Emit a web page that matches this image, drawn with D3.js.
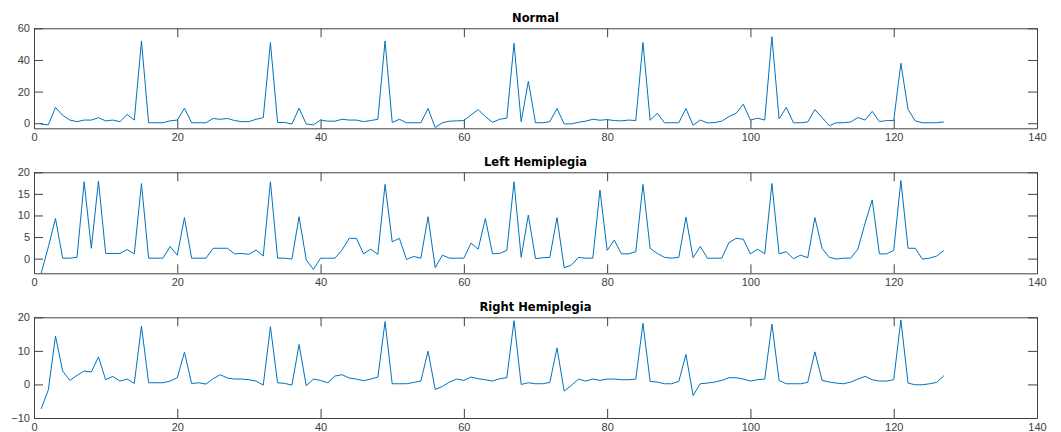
<!DOCTYPE html>
<html>
<head>
<meta charset="utf-8">
<style>
  body { margin: 0; background: #fff; }
  svg { display: block; font-family: "DejaVu Sans", sans-serif; }
  .title { font-weight: bold; font-size: 11.5px; fill: #000; }
  .tick text { font-size: 11px; fill: #404040; }
  .domain, .tick line { stroke: #404040; }
</style>
</head>
<body>
<svg width="1061" height="432"></svg>
<script src="https://cdnjs.cloudflare.com/ajax/libs/d3/7.8.5/d3.min.js"></script>
<script>
// series (samples 1..127)
var normal = [-0.6,-1,10,5,2,1,2,2,3.5,1.5,2,1,5.5,2,52,0.3,0.3,0.3,1.5,2,
  9.5,0.3,0.3,0.3,3,2.5,3,1.7,1,1,2.5,3.5,51,0.5,0.5,-0.5,9.5,-0.5,-1,2,
  1.3,1.3,2.5,2,2,1,1.7,2.5,52,0.5,2.5,0.3,0.3,0.3,9.3,-2.7,0.3,1.3,1.5,1.7,
  5.3,8.6,4.2,0.6,2.5,3.2,50.5,1,26.5,0.3,0.3,1,9.3,-0.4,-0.4,0.6,1.3,2.5,1.9,2.3,
  1.7,1.5,2,1.7,51,1.9,6.3,0.3,0.3,0.3,9.3,-1.3,2,0.2,0.4,1.3,4.2,6.3,12,2,
  3.2,2,54.7,2.7,10,0.3,0.3,0.8,8.6,3.6,-1.5,0.3,0.3,0.8,3.6,2,7.5,1,1.7,1.7,
  37.9,8.8,1.5,0.3,0.3,0.3,0.8];
var leftHemi = [-3.4,2.7,9.3,0.1,0.1,0.3,17.8,2.4,18,1.2,1.2,1.2,2.1,1.1,17.4,0.1,0.1,0.1,2.8,0.8,
  9.5,0.1,0.1,0.1,2.4,2.4,2.4,1.1,1.2,1,2,0.6,17.8,0.1,0.1,-0.1,9.7,-0.3,-2.5,0.1,
  0.1,0.1,2,4.7,4.7,1.1,2.2,1,17.2,3.9,4.7,-0.2,0.5,0.1,9.7,-2.1,0.8,0.1,0.1,0.1,
  3.6,2.2,9.3,1.1,1.2,1.9,17.8,0.3,10.1,0,0.2,0.3,9.5,-2.1,-1.5,0.3,0.1,0.1,15.9,1.9,
  4.3,1.1,1.1,1.6,17.2,2.4,1.2,0.3,0.1,0.3,9.6,0.2,2.8,0.1,0.1,0.1,3.7,4.7,4.5,1.1,
  2.2,1.1,17.4,1.1,1.6,0,0.8,0.2,9.5,2.4,0.3,-0.1,0.1,0.1,2.2,8.2,13.6,1.1,1.1,1.9,
  18.1,2.4,2.4,-0.1,0.1,0.6,1.9];
var rightHemi = [-7.3,-1.6,14.4,4,1.2,2.7,4,3.7,8.2,1.4,2.4,1,1.6,0.3,17.4,0.5,0.5,0.5,1,2,
  9.6,0.3,0.5,0.1,1.7,2.9,1.9,1.6,1.6,1.4,1,-0.2,17.2,0.5,0.3,-0.2,11.9,-0.4,1.6,1.2,
  0.5,2.5,2.9,1.9,1.6,1.1,1.6,2.2,18.7,0.2,0.2,0.2,0.6,1,9.9,-1.5,-0.6,0.7,1.6,1.2,
  2.2,1.7,1.4,1,1.7,2,19,0,0.5,0.2,0.2,0.6,10.9,-2,-0.3,1.6,1,1.6,1.2,1.6,
  1.6,1.4,1.4,1.6,18.2,0.9,0.7,0.2,0.2,0.9,8.9,-3.3,0.2,0.4,0.7,1.2,2,2,1.6,1,
  1.4,1.6,18,1.2,0.2,0.2,0.2,0.6,9.7,1.2,0.7,0.4,0.2,0.7,1.6,2.4,1.4,1,1,1.4,
  19.2,0.4,-0.1,-0.1,0.2,0.6,2.6];

var titles = ["Normal", "Left Hemiplegia", "Right Hemiplegia"];
var seriesList = [normal, leftHemi, rightHemi];
var yDomains = [[-3.2, 60], [-3.4, 20], [-10, 20]];
var yTickValues = [[0, 20, 40, 60], [0, 5, 10, 15, 20], [-10, 0, 10, 20]];
var xTickValues = [0, 20, 40, 60, 80, 100, 120, 140];

var svg = d3.select("svg");
var left = 34, right = 1037;
var tops = [28.3, 172.3, 317.3];
var bottoms = [128.3, 273.3, 418];
var tickLen = 9;

var x = d3.scaleLinear().domain([0, 140]).range([left, right]);

seriesList.forEach(function(data, p) {
    var y = d3.scaleLinear().domain(yDomains[p]).range([bottoms[p], tops[p]]);
    var g = svg.append("g");

    // box axes with inward ticks
    g.append("g").attr("transform", "translate(0," + bottoms[p] + ")")
        .call(d3.axisBottom(x).tickValues(xTickValues).tickSizeInner(-tickLen).tickSizeOuter(0).tickPadding(5));
    g.append("g").attr("transform", "translate(0," + tops[p] + ")")
        .call(d3.axisTop(x).tickValues(xTickValues).tickSizeInner(-tickLen).tickSizeOuter(0).tickFormat(""));
    g.append("g").attr("transform", "translate(" + left + ",0)")
        .call(d3.axisLeft(y).tickValues(yTickValues[p]).tickSizeInner(-tickLen).tickSizeOuter(0).tickPadding(4));
    g.append("g").attr("transform", "translate(" + right + ",0)")
        .call(d3.axisRight(y).tickValues(yTickValues[p]).tickSizeInner(-tickLen).tickSizeOuter(0).tickFormat(""));

    var line = d3.line()
        .x(function(d, i) { return x(i + 1); })
        .y(function(d) { return y(d); });

    g.append("path")
        .datum(data)
        .attr("fill", "none")
        .attr("stroke", "#0072BD")
        .attr("stroke-width", 1)
        .attr("d", line);

    g.append("text")
        .attr("class", "title")
        .attr("x", (left + right) / 2)
        .attr("y", tops[p] - 6)
        .attr("text-anchor", "middle")
        .text(titles[p]);
});
</script>
</body>
</html>
